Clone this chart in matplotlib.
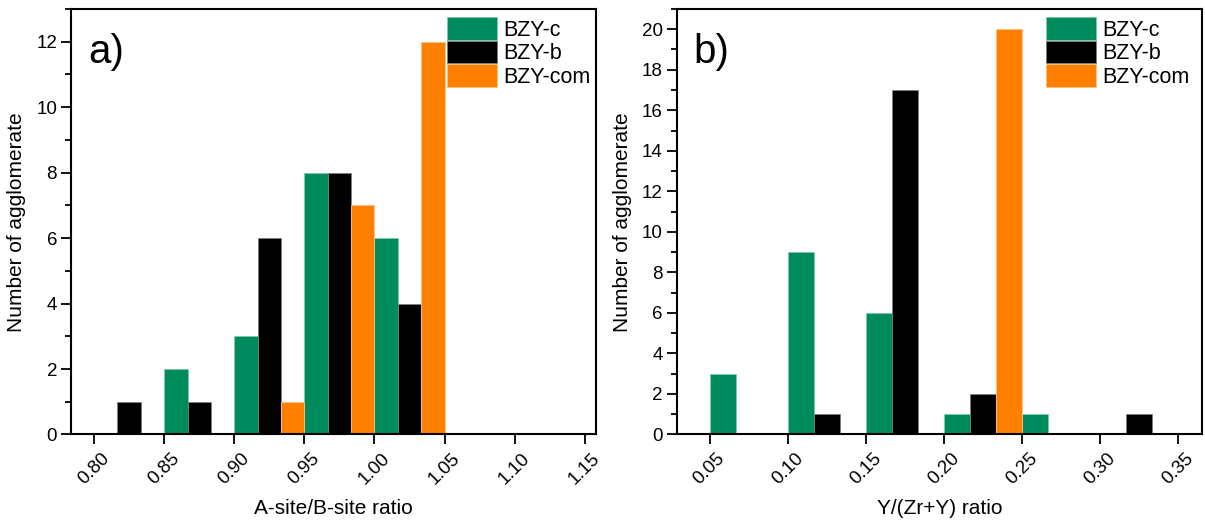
import matplotlib
matplotlib.use("Agg")
from matplotlib import pyplot as plt
from matplotlib.ticker import MultipleLocator
import matplotlib.transforms as mtransforms
import numpy as np

plt.rcParams['font.family'] = ['Liberation Sans', 'DejaVu Sans']

series = ["BZY-c", "BZY-b", "BZY-com"]
colors = ["#008b5f", "#000000", "#ff8000"]
edges = ["#7fc9ad", "#7f7f7f", "#ffc080"]

# panel a: A-site/B-site ratio
bins_a = [0.80, 0.85, 0.90, 0.95, 1.00]
c_a = [0, 2, 3, 8, 6]
b_a = [1, 1, 6, 8, 4]
com_a = [0, 0, 1, 7, 12]
ticks_a = [0.80, 0.85, 0.90, 0.95, 1.00, 1.05, 1.10, 1.15]

# panel b: Y/(Zr+Y) ratio
bins_b = [0.05, 0.10, 0.15, 0.20, 0.25, 0.30]
c_b = [3, 9, 6, 1, 1, 0]
b_b = [0, 1, 17, 2, 0, 1]
com_b = [0, 0, 0, 20, 0, 0]
ticks_b = [0.05, 0.10, 0.15, 0.20, 0.25, 0.30, 0.35]

fig = plt.figure(figsize=(12.05, 5.26), dpi=100)
ax1 = fig.add_axes([0.0589, 0.174, 0.4357, 0.809])
ax2 = fig.add_axes([0.5616, 0.174, 0.4363, 0.809])


def panel(ax, bins, data, ticks, xlim, ylim, xlabel, tag, leg_x):
    w = 0.05 / 3
    for k, vals in enumerate(data):
        x = np.array(bins) + k * w
        ax.bar(x, vals, width=w, align='edge', color=colors[k],
               edgecolor=edges[k], linewidth=0.6, label=series[k])
    ax.set_xlim(*xlim)
    ax.set_ylim(*ylim)
    ax.set_xticks(ticks)
    ax.set_xticklabels(["%.2f" % t for t in ticks], rotation=45,
                       ha='center', va='top')
    # shift the rotated labels a little to the right, like the original
    off = mtransforms.ScaledTranslation(5 / 100, 0, fig.dpi_scale_trans)
    for lab in ax.get_xticklabels():
        lab.set_transform(lab.get_transform() + off)
    ax.yaxis.set_major_locator(MultipleLocator(2))
    ax.yaxis.set_minor_locator(MultipleLocator(1))
    ax.tick_params(axis='both', which='major', direction='out', length=7,
                   width=1.3, labelsize=13.5, pad=3)
    ax.tick_params(axis='y', which='minor', direction='out', length=4, width=1.3)
    ax.tick_params(axis='x', pad=4)
    for s in ax.spines.values():
        s.set_linewidth(1.5)
    ax.set_xlabel(xlabel, fontsize=15, labelpad=8)
    ax.set_ylabel("Number of agglomerate", fontsize=15, labelpad=7)
    ax.text(0.032, 0.944, tag, transform=ax.transAxes, fontsize=29,
            va='top', ha='left')
    ax.legend(loc='upper left', bbox_to_anchor=(leg_x, 0.981), frameon=False,
              fontsize=15.5, handlelength=2.33, handleheight=1.25,
              labelspacing=0.0, handletextpad=0.3, borderpad=0,
              borderaxespad=0)


panel(ax1, bins_a, [c_a, b_a, com_a], ticks_a, (0.7835, 1.158), (0, 13),
      "A-site/B-site ratio", "a)", 0.716)
panel(ax2, bins_b, [c_b, b_b, com_b], ticks_b, (0.029, 0.3658), (0, 21),
      "Y/(Zr+Y) ratio", "b)", 0.702)

fig.savefig("out.png", dpi=100)
